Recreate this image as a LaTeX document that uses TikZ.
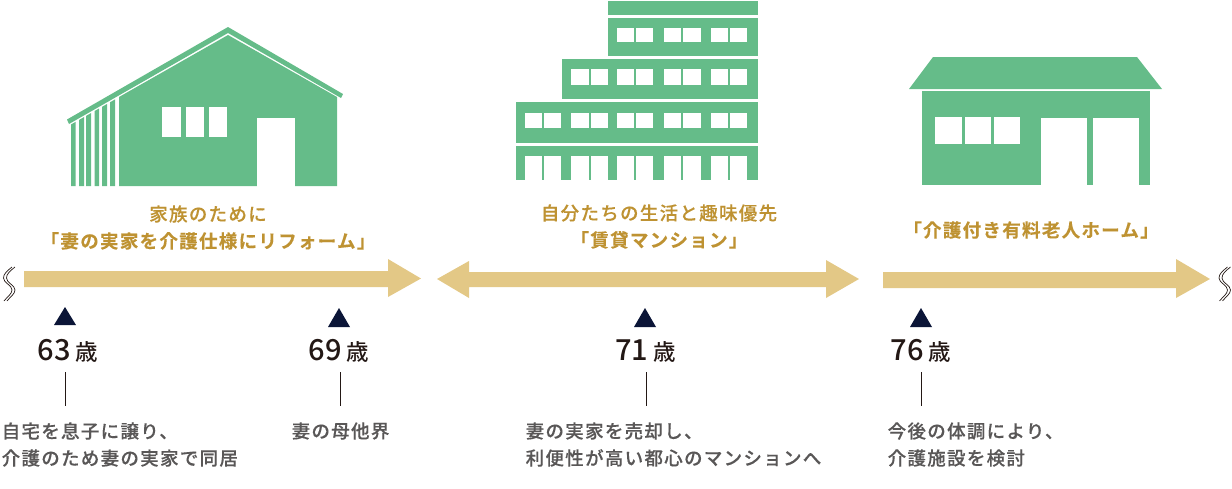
\documentclass[tikz,border=0pt]{standalone}
\usepackage{fontspec}
\usepackage{tikz}
\setmainfont{Noto Sans CJK JP}
\newfontfamily\headfont[LetterSpace=7,FakeBold=0.2,BoldFont={Noto Sans CJK JP Bold}]{Noto Sans CJK JP Medium}
\newfontfamily\notefont[LetterSpace=7,FakeBold=0.2]{Noto Sans CJK JP Medium}
\newfontfamily\agefont{Noto Sans CJK JP Medium}
\definecolor{housegreen}{HTML}{65BC89}
\definecolor{bandgold}{HTML}{E3C886}
\definecolor{headgold}{HTML}{BE9232}
\definecolor{marknavy}{HTML}{0B1537}
\definecolor{agedark}{HTML}{231815}
\definecolor{notegray}{HTML}{595757}
\tikzset{
	house/.style={fill=housegreen,draw=none},
	hole/.style={fill=white,draw=none},
	band/.style={fill=bandgold,draw=none},
	agemark/.style={fill=marknavy,draw=none},
	headline/.style={text=headgold,font=\headfont\fontsize{18.5}{27}\selectfont,align=center,inner sep=0pt},
	agelabel/.style={text=agedark,inner sep=0pt,anchor=base},
	noteline/.style={text=notegray,font=\notefont\fontsize{18.5}{27}\selectfont,align=left,anchor=west,inner sep=0pt},
	tickline/.style={draw=agedark,line width=1.7pt},
	wavyline/.style={draw=agedark,line width=0.7pt}
}
\newcommand{\agetext}[1]{{\agefont\fontsize{29}{29}\selectfont #1}\hspace{5pt}{\agefont\fontsize{22.5}{22.5}\selectfont 歳}}
\newcommand{\wavemark}[1]{%
	\draw[wavyline,shift={(#1,0)}] (12,267) .. controls (7,271) and (3.5,274) .. (3.5,278) .. controls (3.5,283) and (12,285) .. (12,290) .. controls (12,294) and (7,297) .. (4,301);
	\draw[wavyline,shift={(#1,0)}] (15,267) .. controls (10,271) and (6.5,274) .. (6.5,278) .. controls (6.5,283) and (15,285) .. (15,290) .. controls (15,294) and (10,297) .. (7,301);
}
\begin{document}
\begin{tikzpicture}[x=1pt,y=-1pt]
	\path[use as bounding box] (0,0) rectangle (1232,488);
	% Haus links
	\fill[house] (67,119.5) -- (228,27) -- (343,94) -- (341,98) -- (228,33) -- (69,124) -- cycle;
	\fill[house] (119,97) -- (228,35) -- (337,97) -- (337,186) -- (119,186) -- cycle;
	\foreach \a/\b in {71/75.5,79/84,86/91,94.5/99,102/107,110/115}
		\fill[house] (\a,{35+(228-\a)*0.57}) -- (\b,{35+(228-\b)*0.57}) -- (\b,186) -- (\a,186) -- cycle;
	\foreach \a/\b in {162/181,186/204,209/227}
		\fill[hole] (\a,107) rectangle (\b,137);
	\fill[hole] (257,118) rectangle (295,186.5);
	% Gebaeude Mitte
	\fill[house] (608,1) rectangle (758,15);
	\fill[house] (608,18) rectangle (758,56);
	\fill[house] (562,59) rectangle (758,99);
	\fill[house] (516,102) rectangle (758,143);
	\fill[house] (516,146) rectangle (758,180);
	\foreach \a/\b in {617/634,636/653,664/681,683/701,711/728,730/747} {
		\fill[hole] (\a,28) rectangle (\b,42);
		\fill[hole] (\a,69) rectangle (\b,85);
		\fill[hole] (\a,113) rectangle (\b,128);
		\fill[hole] (\a,156) rectangle (\b,180.5);
	}
	\foreach \a/\b in {571/589,591/608} {
		\fill[hole] (\a,69) rectangle (\b,85);
		\fill[hole] (\a,113) rectangle (\b,128);
		\fill[hole] (\a,156) rectangle (\b,180.5);
	}
	\foreach \a/\b in {525/542,544/561} {
		\fill[hole] (\a,113) rectangle (\b,128);
		\fill[hole] (\a,156) rectangle (\b,180.5);
	}
	% Haus rechts
	\fill[house] (933,57) -- (1137,57) -- (1162,89) -- (909,89) -- cycle;
	\fill[house] (922,91) rectangle (1150,185);
	\foreach \a/\b in {935/962,965/991,994/1020}
		\fill[hole] (\a,117) rectangle (\b,144);
	\fill[hole] (1041,118) rectangle (1087,185.5);
	\fill[hole] (1093,118) rectangle (1139,185.5);
	% Ueberschriften
	\node[headline] (headfamily) at (208,227.5) {家族のために\\\bfseries「妻の実家を介護仕様にリフォーム」};
	\node[headline] (headrental) at (659,226.5) {自分たちの生活と趣味優先\\\bfseries「賃貸マンション」};
	\node[headline,font=\headfont\bfseries\fontsize{18.5}{27}\selectfont] (headcare) at (1031,230) {「介護付き有料老人ホーム」};
	% Pfeile
	\fill[band] (24,271) -- (388,271) -- (388,259) -- (421,278.5) -- (388,297) -- (388,287) -- (24,287) -- cycle;
	\fill[band] (437,279) -- (469,261) -- (469,272) -- (826,272) -- (826,260) -- (859,279) -- (826,298) -- (826,287) -- (469,287) -- (469,298) -- cycle;
	\fill[band] (883,272) -- (1176,272) -- (1176,259) -- (1210,279) -- (1176,298) -- (1176,288) -- (883,288) -- cycle;
	\wavemark{0}
	\wavemark{1215.5}
	% Dreiecke
	\fill[agemark] (65,307) -- (76,325) -- (54,325) -- cycle;
	\fill[agemark] (339,308) -- (350,327) -- (328,327) -- cycle;
	\fill[agemark] (645,308) -- (656,327) -- (634,327) -- cycle;
	\fill[agemark] (921,308) -- (932,327) -- (910,327) -- cycle;
	% Alter
	\node[agelabel] (age63) at (68,360) {\agetext{63}};
	\node[agelabel] (age69) at (339,360) {\agetext{69}};
	\node[agelabel] (age71) at (645.5,360) {\agetext{71}};
	\node[agelabel] (age76) at (921,360) {\agetext{76}};
	% Linien
	\coordinate (tick63a) at (65.5,372);
	\coordinate (tick63b) at (65.5,406);
	\coordinate (tick69a) at (340.5,372);
	\coordinate (tick69b) at (340.5,406);
	\coordinate (tick71a) at (646.5,372);
	\coordinate (tick71b) at (646.5,406);
	\coordinate (tick76a) at (921.5,372);
	\coordinate (tick76b) at (921.5,406);
	\draw[tickline] (tick63a) -- (tick63b);
	\draw[tickline] (tick69a) -- (tick69b);
	\draw[tickline] (tick71a) -- (tick71b);
	\draw[tickline] (tick76a) -- (tick76b);
	% Texte unten
	\node[noteline] (note63) at (1.5,444.5) {自宅を息子に譲り、\\介護のため妻の実家で同居};
	\node[noteline] (note69) at (291.5,431) {妻の母他界};
	\node[noteline] (note71) at (525.5,444.5) {妻の実家を売却し、\\利便性が高い都心のマンションへ};
	\node[noteline] (note76) at (887.5,444.5) {今後の体調により、\\介護施設を検討};
\end{tikzpicture}
\end{document}
